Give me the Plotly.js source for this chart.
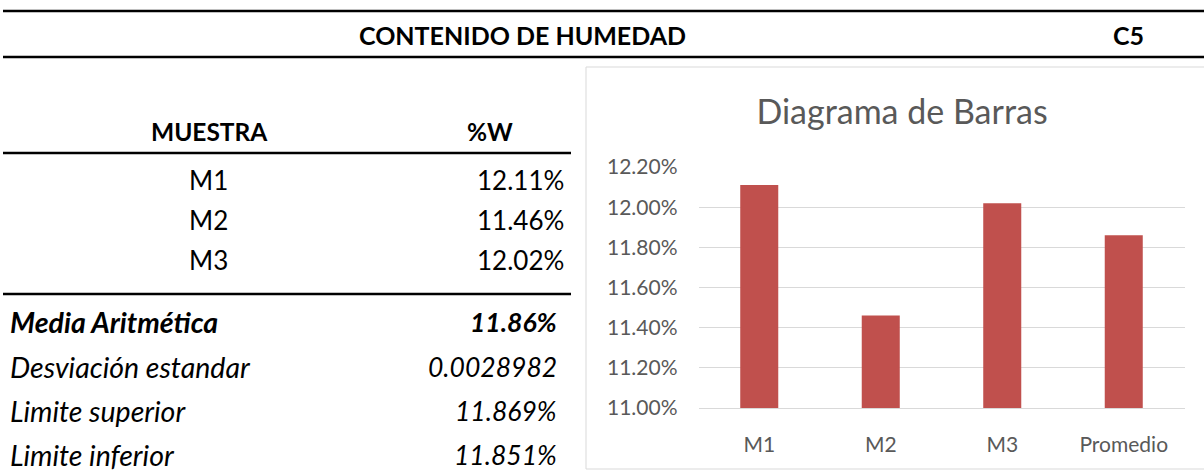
<!DOCTYPE html>
<html>
<head>
<meta charset="utf-8">
<script src="https://cdn.plot.ly/plotly-3.0.1.min.js"></script>
<style>
  html, body { margin: 0; padding: 0; background: #ffffff; }
  #chart { width: 1204px; height: 473px; }
</style>
</head>
<body>
<div id="chart"></div>
<script>
// ---- data ----
const reportTitle = 'CONTENIDO DE HUMEDAD';
const reportCode = 'C5';
const chartTitle = 'Diagrama de Barras';
const tableHeaders = ['MUESTRA', '%W'];
const sampleNames = ['M1', 'M2', 'M3'];
const sampleValues = [0.1211, 0.1146, 0.1202];
const meanLabel = 'Promedio';
const meanValue = 0.1186;
const statLabels = ['Media Aritmética', 'Desviación estandar', 'Limite superior', 'Limite inferior'];
const statValues = ['11.86%', '0.0028982', '11.869%', '11.851%'];
const yTickValues = [0.110, 0.112, 0.114, 0.116, 0.118, 0.120, 0.122];

const categories = sampleNames.concat([meanLabel]);
const barValues = sampleValues.concat([meanValue]);

// ---- page geometry helpers (pixels -> paper fraction) ----
const W = 1204, H = 473;
const px = x => x / W;
const py = y => 1 - y / H;

const FONT = 'Lato, "Open Sans", sans-serif';
const GREY = '#595959';

const annotations = [];
function label(text, x, y, anchor, size) {
  annotations.push({
    text: text, x: px(x), y: py(y), xref: 'paper', yref: 'paper',
    xanchor: anchor, yanchor: 'middle', showarrow: false,
    font: { family: FONT, size: size, color: '#000000' }
  });
}

// header
label('<b>' + reportTitle + '</b>', 522, 35, 'center', 25);
label('<b>' + reportCode + '</b>', 1128, 35, 'center', 25);
// table header
label('<b>' + tableHeaders[0] + '</b>', 209, 131, 'center', 24.5);
label('<b>' + tableHeaders[1] + '</b>', 490, 131, 'center', 24.5);
// sample rows
const rowY = [180, 220, 260];
sampleNames.forEach((n, i) => {
  label(n, 208, rowY[i], 'center', 26);
  label((sampleValues[i] * 100).toFixed(2) + '%', 566, rowY[i], 'right', 26);
});
// stats rows
const statY = [322, 367, 411, 455];
statLabels.forEach((s, i) => {
  const t = i === 0 ? '<b><i>' + s + '</i></b>' : '<i>' + s + '</i>';
  const v = i === 0 ? '<b><i>' + statValues[i] + '</i></b>' : '<i>' + statValues[i] + '</i>';
  label(t, 8, statY[i], 'left', 28.5);
  label(v, 559, statY[i], 'right', 26.5);
});

const line = (x0, x1, y, w) => ({
  type: 'line', xref: 'paper', yref: 'paper',
  x0: px(x0), x1: px(x1), y0: py(y), y1: py(y),
  line: { color: '#000000', width: w }
});

const shapes = [
  line(3, 1204, 11, 2.5),
  line(3, 1204, 57, 2.5),
  line(3, 571, 153, 2.5),
  line(3, 571, 294, 2.5),
  // chart frame
  { type: 'rect', xref: 'paper', yref: 'paper',
    x0: px(586), x1: px(1218), y0: py(469), y1: py(67),
    line: { color: '#d9d9d9', width: 1 }, fillcolor: 'rgba(0,0,0,0)', layer: 'below' }
];

const trace = {
  type: 'bar',
  x: categories,
  y: barValues,
  marker: { color: '#c0504d', line: { width: 0 } },
  hoverinfo: 'x+y'
};

const layout = {
  width: W, height: H,
  margin: { l: 0, r: 0, t: 0, b: 0, pad: 0 },
  paper_bgcolor: '#ffffff',
  plot_bgcolor: 'rgba(0,0,0,0)',
  showlegend: false,
  bargap: 0.687,
  title: {
    text: chartTitle,
    xref: 'container', yref: 'container',
    x: px(902), y: py(112), xanchor: 'center', yanchor: 'middle',
    font: { family: FONT, size: 34, color: GREY }
  },
  xaxis: {
    domain: [px(698.5), px(1184.5)],
    automargin: false,
    showgrid: false,
    showline: true, linecolor: '#d9d9d9', linewidth: 1,
    ticks: '', ticklabelstandoff: 18,
    tickfont: { family: FONT, size: 21, color: GREY },
    fixedrange: true
  },
  yaxis: {
    domain: [1 - 408 / H, 1 - 167 / H],
    automargin: false,
    range: [0.110, 0.122],
    tickvals: yTickValues,
    tickformat: '.2%',
    showgrid: true, gridcolor: '#d9d9d9', gridwidth: 1,
    zeroline: false, showline: false,
    ticks: '', ticklabelstandoff: 20,
    tickfont: { family: FONT, size: 21, color: GREY },
    fixedrange: true
  },
  shapes: shapes,
  annotations: annotations
};

Plotly.newPlot('chart', [trace], layout, { displayModeBar: false, staticPlot: true });
</script>
</body>
</html>
